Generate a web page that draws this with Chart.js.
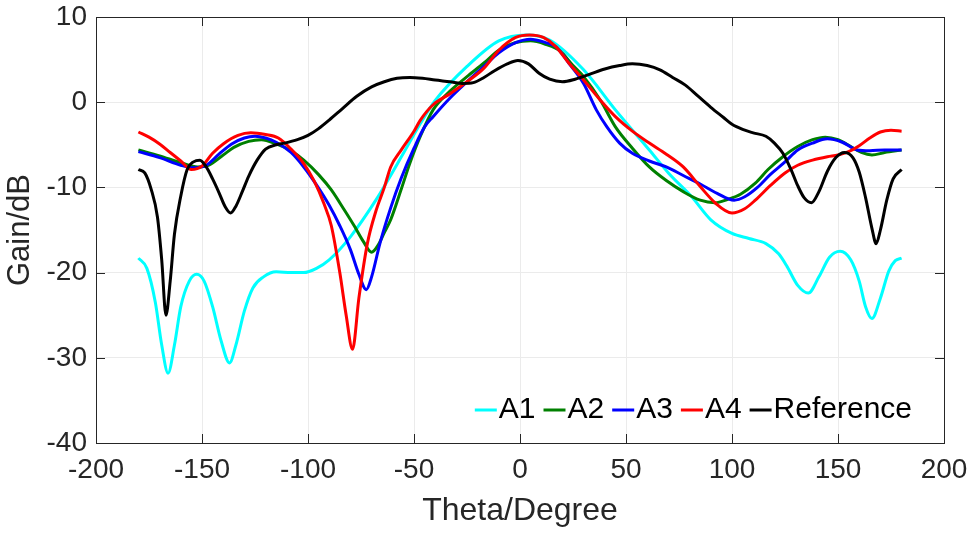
<!DOCTYPE html>
<html>
<head>
<meta charset="utf-8">
<script src="https://cdn.jsdelivr.net/npm/chart.js@4"></script>
<style>
  html, body { margin: 0; padding: 0; background: #fff; }
  #gainChart { display: block; }
</style>
</head>
<body>
<canvas id="gainChart" width="977" height="536"></canvas>
<script>
// values (theta in degrees, gain in dB)
const thetaA1 = [-180, -176, -172, -169, -166, -163, -160, -156, -152.5, -149, -145, -141, -137, -134, -130, -126, -121, -115, -108, -102, -96, -90, -80, -68, -55, -47, -40, -25, -10, 3, 14, 30, 45, 61, 70, 81, 90, 100, 108, 116, 122, 126, 131, 136, 141, 146, 151, 156, 160, 163, 166, 170, 174, 177, 180];
const gainA1 = [-18.3, -19.5, -23.5, -28.5, -31.8, -28.5, -24, -21, -20.2, -21, -24, -28, -30.6, -28.5, -24.5, -21.8, -20.5, -19.9, -20, -20, -19.5, -18.5, -15.8, -11.5, -6.0, -2.5, 0.2, 4.2, 7.2, 7.9, 7.3, 3.8, -0.9, -5.6, -8.3, -11.1, -13.8, -15.4, -16.0, -16.6, -17.8, -19.3, -21.5, -22.4, -20.5, -18.2, -17.5, -18.5, -21, -24, -25.4, -23, -19.8, -18.6, -18.3];

const thetaA2 = [-180, -170, -160, -152, -147, -140, -135, -128, -122, -115, -108, -102, -95, -89, -83, -78, -74, -70, -67, -64, -61, -56, -52, -47, -41, -33, -25, -17, -10, -2, 5, 12, 19, 25, 30, 38, 45, 53, 61, 69, 77, 85, 92, 98, 104, 111, 117, 124, 131, 138, 144, 150, 156, 161, 166, 172, 180];
const gainA2 = [-5.6, -6.3, -7.1, -7.6, -7.4, -6.2, -5.3, -4.6, -4.4, -4.9, -5.7, -6.8, -8.5, -10.3, -12.6, -14.6, -16.3, -17.6, -16.8, -15.3, -13.8, -10.2, -7.2, -4.0, -0.9, 1.3, 3.0, 4.6, 6.1, 7.0, 7.2, 6.8, 6.0, 4.3, 3.0, 0.2, -2.9, -5.4, -7.6, -9.2, -10.5, -11.5, -11.8, -11.4, -10.8, -9.5, -7.9, -6.4, -5.2, -4.4, -4.1, -4.4, -5.2, -5.9, -6.2, -5.9, -5.6];

const thetaA3 = [-180, -170, -160, -154, -148, -142, -136, -130, -125, -120, -115, -108, -102, -96, -90, -85, -80, -76, -72.5, -70, -66, -61, -56, -50, -45, -41, -33, -25, -17, -10, -2, 5, 12, 17, 23, 30, 36, 41, 47, 53, 61, 69, 77, 85, 93, 101, 106, 112, 118, 125, 131, 138, 145, 152, 159, 165, 172, 180];
const gainA3 = [-5.8, -6.5, -7.4, -7.7, -7.4, -6.1, -4.9, -4.2, -4.0, -4.2, -4.7, -5.9, -7.6, -9.7, -12.1, -14.5, -17.3, -20.2, -22.0, -20.5, -16.5, -12.4, -8.9, -5.4, -2.9, -1.7, 0.5, 2.4, 4.2, 5.8, 7.0, 7.4, 7.0, 6.5, 4.6, 2.2, -0.9, -2.9, -4.8, -6.0, -6.9, -7.6, -8.6, -9.6, -10.7, -11.5, -11.1, -10.0, -8.5, -7.0, -5.6, -4.8, -4.3, -4.7, -5.6, -5.7, -5.6, -5.6];

const thetaA4 = [-180, -175, -170, -165, -160, -155, -150, -145, -140, -133, -127, -120, -114, -108, -102, -97, -92.5, -89, -85, -82, -79, -76, -72, -68, -64, -61, -56, -50, -47, -41, -33, -25, -17, -10, -2, 4.5, 11, 17, 23, 30, 38, 45, 53, 61, 69, 77, 85, 92, 100, 106, 111, 118, 125, 131, 138, 145, 150, 155, 160, 165, 170, 175, 180];
const gainA4 = [-3.5, -4.1, -4.9, -5.9, -6.9, -7.9, -7.5, -6.0, -4.9, -3.9, -3.6, -3.8, -4.2, -5.5, -7.2, -9.3, -11.9, -14.5, -20.0, -25, -29.0, -23, -16.6, -12.8, -10, -7.6, -5.6, -3.4, -2.1, -0.3, 1.0, 2.4, 4.0, 6.1, 7.6, 7.9, 7.6, 6.5, 4.6, 2.6, 0.2, -1.7, -3.4, -4.8, -6.1, -7.6, -9.9, -11.8, -13.0, -12.5, -11.5, -9.8, -8.3, -7.4, -6.8, -6.4, -6.2, -5.8, -5.1, -4.2, -3.5, -3.3, -3.4];

const thetaRef = [-180, -177, -174, -171, -169, -167, -165, -163, -160, -157, -154, -151, -148, -145, -142, -139, -136.5, -134, -131, -128, -124, -120, -115, -111, -105, -100, -95, -90, -84, -77, -70, -64, -58, -52, -46, -40, -33, -27, -22, -17, -12, -6, -1, 4, 9, 14, 20, 26, 33, 40, 47, 53, 60, 66, 72, 78, 84, 90, 96, 100, 105, 110, 116, 120, 124, 128, 131, 134, 137.5, 141, 145, 149, 153, 157, 160, 163, 166, 168, 170, 173, 176, 180];
const gainRef = [-7.9, -8.3, -10.2, -13.5, -18.5, -25.0, -21, -15.5, -11, -7.9, -7.0, -6.8, -7.6, -9.0, -10.6, -12.3, -13.0, -12.2, -10.5, -8.7, -6.8, -5.5, -5.0, -4.8, -4.4, -3.9, -3.1, -2.1, -0.8, 0.7, 1.8, 2.4, 2.8, 2.9, 2.8, 2.6, 2.4, 2.2, 2.3, 2.9, 3.7, 4.5, 4.9, 4.5, 3.4, 2.7, 2.4, 2.7, 3.3, 3.9, 4.3, 4.5, 4.3, 3.8, 2.9, 2.0, 0.7, -0.6, -1.8, -2.6, -3.2, -3.6, -4.0, -4.8, -6.0, -8.0, -9.8, -11.2, -11.8, -10.5, -8.1, -6.5, -5.9, -6.5, -8.2, -11.2, -14.8, -16.6, -15.0, -11.5, -9.0, -7.9];

const seriesNames = ["A1", "A2", "A3", "A4", "Reference"];
const seriesColors = ["#00ffff", "#008000", "#0000ff", "#ff0000", "#000000"];
const seriesTheta = [thetaA1, thetaA2, thetaA3, thetaA4, thetaRef];
const seriesGain = [gainA1, gainA2, gainA3, gainA4, gainRef];

const xTicks = [-200, -150, -100, -50, 0, 50, 100, 150, 200];
const yTicks = [-40, -30, -20, -10, 0, 10];

const FONT = "'Liberation Sans', Arial, Helvetica, sans-serif";
const INK = "#262626";

function toPoints(xs, ys) {
  return xs.map((x, i) => ({ x: x, y: ys[i] }));
}

// box + inward tick marks, MATLAB style
const boxPlugin = {
  id: "boxPlugin",
  afterDraw(chart) {
    const { ctx, chartArea: a, scales } = chart;
    const len = 9;
    ctx.save();
    ctx.strokeStyle = INK;
    ctx.lineWidth = 1;
    ctx.beginPath();
    scales.x.ticks.forEach(t => {
      const px = Math.round(scales.x.getPixelForValue(t.value)) + 0.5;
      ctx.moveTo(px, a.bottom); ctx.lineTo(px, a.bottom - len);
      ctx.moveTo(px, a.top); ctx.lineTo(px, a.top + len);
    });
    scales.y.ticks.forEach(t => {
      const py = Math.round(scales.y.getPixelForValue(t.value)) + 0.5;
      ctx.moveTo(a.left, py); ctx.lineTo(a.left + len, py);
      ctx.moveTo(a.right, py); ctx.lineTo(a.right - len, py);
    });
    ctx.stroke();
    ctx.strokeRect(Math.round(a.left) + 0.5, Math.round(a.top) + 0.5,
      Math.round(a.right - a.left), Math.round(a.bottom - a.top));
    ctx.restore();
  }
};

// legend inside the axes, bottom right, no frame
const insideLegend = {
  id: "insideLegend",
  afterDraw(chart) {
    const { ctx, chartArea: a } = chart;
    const lineLen = 22, gap = 2, itemGap = 8;
    ctx.save();
    ctx.font = "30px " + FONT;
    ctx.textBaseline = "middle";
    let total = 0;
    chart.data.datasets.forEach((d, i) => {
      total += lineLen + gap + ctx.measureText(d.label).width;
      if (i > 0) total += itemGap;
    });
    let x = a.right - 32 - total;
    const y = a.bottom - 33;
    chart.data.datasets.forEach((d, i) => {
      ctx.strokeStyle = d.borderColor;
      ctx.lineWidth = 3;
      ctx.beginPath();
      ctx.moveTo(x, y); ctx.lineTo(x + lineLen, y);
      ctx.stroke();
      x += lineLen + gap;
      ctx.fillStyle = "#000";
      ctx.fillText(d.label, x, y);
      x += ctx.measureText(d.label).width + itemGap;
    });
    ctx.restore();
  }
};

const datasets = seriesNames.map((name, i) => ({
  label: name,
  data: toPoints(seriesTheta[i], seriesGain[i]),
  borderColor: seriesColors[i],
  backgroundColor: seriesColors[i],
  borderWidth: 3,
  pointRadius: 0,
  cubicInterpolationMode: "monotone",
  fill: false,
  order: seriesNames.length - 1 - i
}));

new Chart(document.getElementById("gainChart"), {
  type: "line",
  data: { datasets: datasets },
  options: {
    responsive: false,
    animation: false,
    devicePixelRatio: 1,
    layout: { padding: { top: 17, right: 33, left: 0, bottom: 0 } },
    plugins: {
      legend: { display: false },
      tooltip: { enabled: false }
    },
    scales: {
      x: {
        type: "linear",
        min: -200,
        max: 200,
        afterBuildTicks: s => { s.ticks = xTicks.map(v => ({ value: v })); },
        afterFit: s => { s.height = 93; s.paddingLeft = 0; s.paddingRight = 0; },
        grid: { color: "#ebebeb", drawTicks: false },
        border: { display: false },
        ticks: { color: INK, font: { family: FONT, size: 28 }, padding: 10, maxRotation: 0 },
        title: {
          display: true,
          text: "Theta/Degree",
          color: INK,
          font: { family: FONT, size: 32 },
          padding: { top: 6, bottom: 6 }
        }
      },
      y: {
        min: -40,
        max: 10,
        afterBuildTicks: s => { s.ticks = yTicks.map(v => ({ value: v })); },
        afterFit: s => { s.width = 96; s.paddingTop = 0; s.paddingBottom = 0; },
        grid: { color: "#ebebeb", drawTicks: false },
        border: { display: false },
        ticks: { color: INK, font: { family: FONT, size: 28 }, padding: 9 },
        title: {
          display: true,
          text: "Gain/dB",
          color: INK,
          font: { family: FONT, size: 31 },
          padding: { top: 2, bottom: 2 }
        }
      }
    }
  },
  plugins: [boxPlugin, insideLegend]
});
</script>
</body>
</html>
